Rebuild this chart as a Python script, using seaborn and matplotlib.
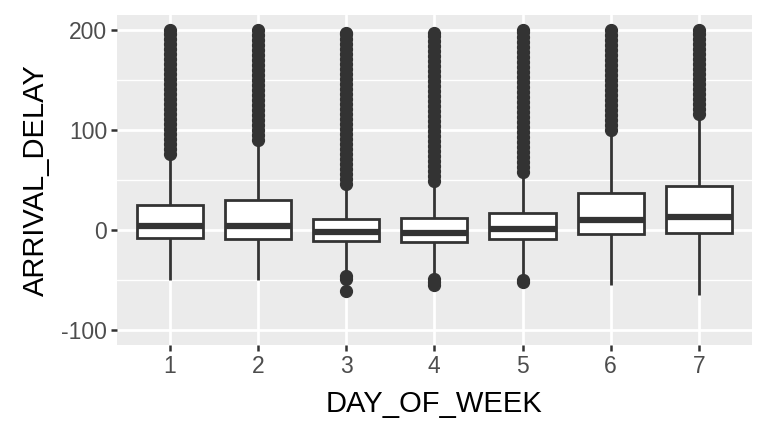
import numpy as np
import pandas as pd
import matplotlib
matplotlib.use("Agg")
import matplotlib.pyplot as plt
import seaborn as sns

# Box summary (minutes of arrival delay, per day of week)
days = [1, 2, 3, 4, 5, 6, 7]
q1 = [-8, -9, -11, -12, -9, -4, -3]
median = [4, 4, -2, -3, 1, 10, 13]
q3 = [25, 30, 11, 12, 17, 37, 44]
whisker_low = [-50, -50, -43, -45, -46, -55, -65]
whisker_high = [73, 87, 43, 47, 55, 97, 113]
low_outliers = [[], [], [-46, -49, -61], [-49, -52, -55], [-50, -52], [], []]
high_outliers = [
    [76, 81, 86, 91, 96, 101, 106, 111, 116, 121, 126, 131, 136, 141, 146,
     151, 156, 161, 166, 171, 176, 181, 186, 191, 196, 200],
    [90, 95, 100, 105, 110, 115, 120, 125, 130, 135, 140, 145, 150, 155, 160,
     165, 170, 175, 180, 185, 190, 195, 200],
    [46, 51, 56, 61, 66, 71, 76, 81, 86, 91, 96, 101, 106, 111, 116, 121, 126,
     131, 136, 141, 146, 151, 156, 161, 166, 171, 176, 181, 186, 191, 196, 197],
    [49, 54, 59, 64, 69, 74, 79, 84, 89, 94, 99, 104, 109, 114, 119, 124, 129,
     134, 139, 144, 149, 154, 159, 164, 169, 174, 179, 184, 189, 194, 197],
    [58, 63, 68, 73, 78, 83, 88, 93, 98, 103, 108, 113, 118, 123, 128, 133, 138,
     143, 148, 153, 158, 163, 168, 173, 178, 183, 188, 193, 198, 200],
    [100, 105, 110, 115, 120, 125, 130, 135, 140, 145, 150, 155, 160, 165, 170,
     175, 180, 185, 190, 195, 200],
    [116, 121, 126, 131, 136, 141, 146, 151, 156, 161, 166, 171, 176, 181, 186,
     191, 196, 200],
]
# flights sitting at each quartile level, so the quartiles land on the values above
n_core = 100

rows = []
for i, d in enumerate(days):
    vals = ([whisker_low[i]] + [q1[i]] * n_core + [median[i]] * n_core
            + [q3[i]] * n_core + [whisker_high[i]]
            + low_outliers[i] + high_outliers[i])
    rows.append(pd.DataFrame({"DAY_OF_WEEK": d, "ARRIVAL_DELAY": vals}))
df = pd.concat(rows, ignore_index=True)

sns.set_theme(style="darkgrid", rc={
    "axes.facecolor": "#EBEBEB",
    "grid.color": "white",
    "grid.linewidth": 2.0,
    "xtick.color": "#333333",
    "ytick.color": "#333333",
    "xtick.labelcolor": "#4D4D4D",
    "ytick.labelcolor": "#4D4D4D",
    "xtick.bottom": True,
    "ytick.left": True,
    "xtick.major.size": 4,
    "ytick.major.size": 4,
    "xtick.major.width": 1.8,
    "ytick.major.width": 1.8,
    "axes.unicode_minus": False,
})
plt.rcParams["font.family"] = ["Liberation Sans", "DejaVu Sans"]

fig = plt.figure(figsize=(7.68, 4.32), dpi=100)
ax = fig.add_axes([0.152, 0.201, 0.827, 0.764])

line = "#333333"
sns.boxplot(data=df, x="DAY_OF_WEEK", y="ARRIVAL_DELAY", ax=ax,
            color="white", saturation=1, width=0.75, linecolor=line,
            linewidth=2, showcaps=False,
            medianprops=dict(color=line, linewidth=4.5),
            flierprops=dict(marker="o", markerfacecolor=line,
                            markeredgecolor=line, markersize=8.5))

ax.set_xlim(-0.6, 6.6)
ax.set_ylim(-115, 215)
ax.set_yticks([-100, 0, 100, 200])
ax.set_yticks([-50, 50, 150], minor=True)
ax.grid(True, which="major", color="white", linewidth=2.0)
ax.grid(True, which="minor", axis="y", color="white", linewidth=1.0)
ax.tick_params(axis="y", which="minor", left=False)
ax.tick_params(axis="both", which="major", labelsize=16.5, pad=3)
for s in ax.spines.values():
    s.set_visible(False)

ax.set_xlabel("DAY_OF_WEEK", fontsize=21, color="black", labelpad=9)
ax.set_ylabel("ARRIVAL_DELAY", fontsize=21, color="black", labelpad=8)

fig.savefig("out.png", dpi=100)
